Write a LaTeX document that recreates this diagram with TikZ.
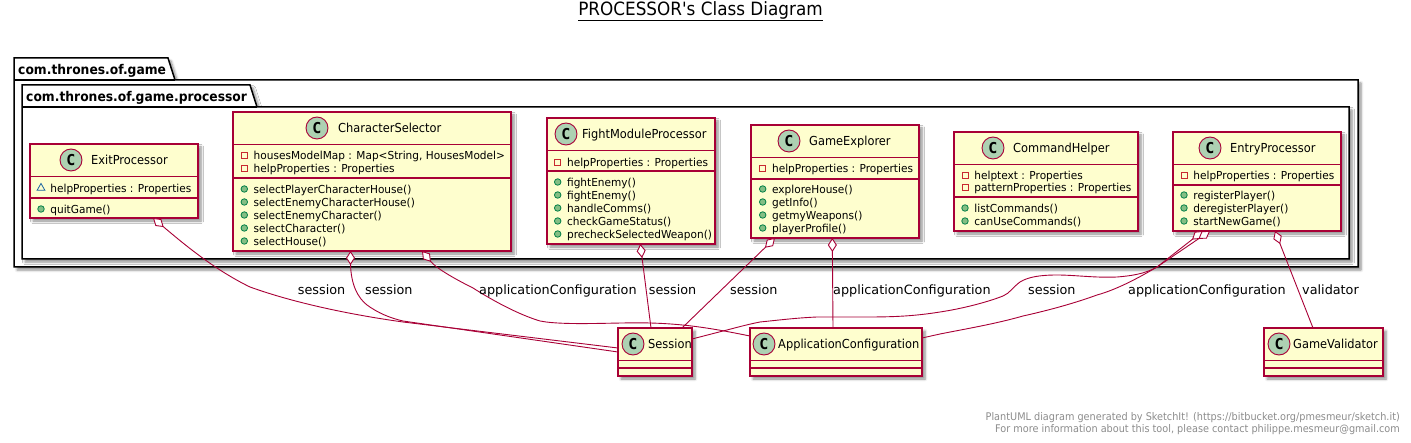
\documentclass[tikz,border=0pt]{standalone}
\usepackage{fontspec}
\usepackage{tikz}
\usetikzlibrary{arrows.meta,shadows.blur,shapes.geometric}
\setmainfont{DejaVu Sans}
\newfontfamily\umlfont[FakeStretch=0.92]{DejaVu Sans}
\newfontfamily\memfont[FakeStretch=0.96]{DejaVu Sans}
\newfontfamily\monofont{DejaVu Sans Mono}
\definecolor{umlline}{HTML}{A80036}
\definecolor{umlfill}{HTML}{FEFECE}
\definecolor{umlicon}{HTML}{ADD1B2}
\definecolor{pubfill}{HTML}{84BE84}
\definecolor{publine}{HTML}{038048}
\definecolor{privline}{HTML}{C82930}
\definecolor{pkgline}{HTML}{1963A0}
\tikzset{
  softshadow/.style={blur shadow={shadow xshift=3pt, shadow yshift=-3pt, shadow blur steps=6, shadow blur radius=2.5pt, shadow opacity=45}},
  pkgbody/.style={draw=black, line width=1.5pt, fill=white, softshadow},
  pkglabel/.style={anchor=west, inner sep=0pt, text height=12pt, text depth=1pt, font=\umlfont\bfseries\fontsize{13.4}{14}\selectfont},
  classbox/.style={draw=umlline, line width=1.25pt, fill=umlfill, anchor=north west, inner sep=0pt, outer sep=0pt, softshadow},
  classsep/.style={draw=umlline, line width=1.25pt},
  classicon/.style={circle, draw=umlline, line width=.9pt, fill=umlicon, minimum size=22pt, inner sep=0pt, font=\monofont\bfseries\fontsize{15}{15}\selectfont},
  classtitle/.style={anchor=west, inner sep=0pt, text height=11pt, text depth=1pt, font=\umlfont\fontsize{12.4}{13}\selectfont},
  memtext/.style={anchor=west, inner sep=0pt, text height=10pt, text depth=1pt, font=\memfont\fontsize{11}{12}\selectfont},
  pubmark/.style={circle, draw=publine, fill=pubfill, line width=.8pt, minimum size=6.5pt, inner sep=0pt},
  privmark/.style={rectangle, draw=privline, line width=.8pt, minimum size=6pt, inner sep=0pt},
  pkgmark/.style={regular polygon, regular polygon sides=3, draw=pkgline, line width=.8pt, minimum size=9pt, inner sep=0pt},
  aggr/.style={draw=umlline, line width=.9pt, {Diamond[fill=white, length=14pt, width=9pt, line width=.9pt]}-},
  linklabel/.style={anchor=west, inner sep=0pt, text height=11pt, text depth=1pt, font=\fontsize{12.8}{13}\selectfont},
}
% id, x1, y1, x2, y2, member rule, icon x, title x, title
\newcommand{\umlclass}[9]{
  \node[classbox, minimum width={(#4-#2)*1pt}, minimum height={(#5-#3)*1pt}] (#1) at (#2,#3) {};
  \draw[classsep] (#2,#3+32.5) -- (#4,#3+32.5);
  \draw[classsep] (#2,#6) -- (#4,#6);
  \node[classicon] (#1-icon) at (#7,#3+16) {C};
  \node[classtitle] (#1-title) at (#8,#3+16) {#9};
}
% mark style, id prefix, mark x, rows
\newcommand{\umlrows}[4]{
  \foreach \rowy/\rowtext [count=\rown] in {#4} {
    \node[#1] (#2-\rown-mark) at (#3,\rowy) {};
    \node[memtext] (#2-\rown) at (#3+9.2,\rowy) {\rowtext};
  }
}
\begin{document}
\begin{tikzpicture}[x=1pt, y=-1pt]
  \useasboundingbox (0,0) rectangle (1411,443);

  \node[inner sep=0pt, font=\umlfont\fontsize{18.3}{19}\selectfont] (title) at (700.5,11) {\underline{PROCESSOR's Class Diagram}};

  % packages
  \draw[pkgbody] (14,80) -- (14,58) -- (168,58) -- (175,80) -- (1358,80) -- (1358,267) -- (14,267) -- cycle;
  \draw[black, line width=1.5pt] (14,80) -- (175,80);
  \node[pkglabel] (gamepkg) at (18,69) {com.thrones.of.game};
  \draw[pkgbody] (22,107) -- (22,85) -- (250,85) -- (257,107) -- (1349,107) -- (1349,259) -- (22,259) -- cycle;
  \draw[black, line width=1.5pt] (22,107) -- (257,107);
  \node[pkglabel] (procpkg) at (26,96) {com.thrones.of.game.processor};

  % classes
  \umlclass{exit}{30}{144}{198}{218}{198}{71}{91}{ExitProcessor}
  \umlrows{pkgmark}{exit-a}{41}{188/helpProperties : Properties}
  \umlrows{pubmark}{exit-m}{41}{209/quitGame()}

  \umlclass{selector}{233}{112}{511}{251}{178}{317}{338}{CharacterSelector}
  \umlrows{privmark}{selector-a}{244.3}{155/{housesModelMap : Map<String, HousesModel>}, 168/helpProperties : Properties}
  \umlrows{pubmark}{selector-m}{244.3}{189/selectPlayerCharacterHouse(), 202/selectEnemyCharacterHouse(), 215/selectEnemyCharacter(), 228/selectCharacter(), 241/selectHouse()}

  \umlclass{fight}{547}{118}{715}{244}{171}{566}{582}{FightModuleProcessor}
  \umlrows{privmark}{fight-a}{557.7}{162/helpProperties : Properties}
  \umlrows{pubmark}{fight-m}{557.7}{182/fightEnemy(), 195/fightEnemy(), 208/handleComms(), 221/checkGameStatus(), 234/precheckSelectedWeapon()}

  \umlclass{explorer}{751}{125}{919}{238}{179}{789}{809}{GameExplorer}
  \umlrows{privmark}{explorer-a}{762.7}{168/helpProperties : Properties}
  \umlrows{pubmark}{explorer-m}{762.7}{189/exploreHouse(), 202/getInfo(), 215/getmyWeapons(), 228/playerProfile()}

  \umlclass{helper}{954}{132}{1138}{231}{197}{993}{1013}{CommandHelper}
  \umlrows{privmark}{helper-a}{965}{175/helptext : Properties, 187/patternProperties : Properties}
  \umlrows{pubmark}{helper-m}{965}{208/listCommands(), 221/canUseCommands()}

  \umlclass{entry}{1173}{132}{1341}{231}{185}{1210}{1230}{EntryProcessor}
  \umlrows{privmark}{entry-a}{1184}{175/helpProperties : Properties}
  \umlrows{pubmark}{entry-m}{1184}{195/registerPlayer(), 208/deregisterPlayer(), 221/startNewGame()}

  \umlclass{session}{618}{328}{692}{376}{368}{633}{648}{Session}
  \umlclass{appconfig}{750}{328}{922}{376}{368}{764}{778}{ApplicationConfiguration}
  \umlclass{validator}{1264}{328}{1383}{376}{368}{1279}{1293}{GameValidator}

  % links
  \draw[aggr] ([xshift=39pt]exit.south) .. controls (185,245) and (215,270) .. (250,287) .. controls (300,305) and (360,316) .. (403,322) -- ([yshift=4pt]session.west);
  \draw[aggr] ([xshift=-21.5pt]selector.south) -- (350.5,264) .. controls (351,285) and (358,298) .. (367,305) .. controls (378,313) and (390,318) .. (403,321) -- (session.west);
  \draw[aggr] ([xshift=50pt]selector.south) .. controls (436,268) and (453,278) .. (473,288) .. controls (495,302) and (520,315) .. (540,321) .. controls (565,326) and (620,322) .. (650,323) .. controls (690,324) and (720,330) .. ([yshift=16pt]appconfig.west);
  \draw[aggr] ([xshift=9.3pt]fight.south) -- ([xshift=-4pt]session.north);
  \draw[aggr] ([xshift=-60pt]explorer.south) -- ([xshift=27pt]session.north);
  \draw[aggr] ([xshift=-2.7pt]explorer.south) -- ([xshift=-3pt]appconfig.north);
  \draw[aggr] ([xshift=-54pt]entry.south) -- (1157,267) .. controls (1145,274) and (1130,276) .. (1117,277) .. controls (1095,278) and (1075,275) .. (1057,275) .. controls (1040,275) and (1028,277) .. (1020,282) .. controls (1012,288) and (1010,293) .. (1003,296) .. controls (985,303) and (960,309) .. (940,312) .. controls (915,316) and (895,317) .. (867,317) .. controls (850,317) and (835,317) .. (817,317) .. controls (795,318) and (780,320) .. (760,322) .. controls (745,325) and (735,328) .. (723,331) -- ([yshift=13pt]session.east);
  \draw[aggr] ([xshift=-47pt]entry.south) -- (1157,267) .. controls (1135,280) and (1115,290) .. (1097,295) .. controls (1075,303) and (1050,310) .. (1023,316) .. controls (995,324) and (965,329) .. (940,334) -- ([yshift=14pt]appconfig.east);
  \draw[aggr] ([xshift=18pt]entry.south) -- ([xshift=-10.5pt]validator.north);

  % link labels
  \node[linklabel] (exit-session) at (297.7,290) {session};
  \node[linklabel] (selector-session) at (365,290) {session};
  \node[linklabel] (selector-config) at (479,290) {applicationConfiguration};
  \node[linklabel] (fight-session) at (648.7,290) {session};
  \node[linklabel] (explorer-session) at (730,290) {session};
  \node[linklabel] (explorer-config) at (833,290) {applicationConfiguration};
  \node[linklabel] (entry-session) at (1028,290) {session};
  \node[linklabel] (entry-config) at (1128,290) {applicationConfiguration};
  \node[linklabel] (entry-validator) at (1302,290) {validator};

  \node[anchor=east, align=right, inner sep=0pt, text=gray!90, font=\umlfont\fontsize{10.55}{12}\selectfont] (footer) at (1400,424) {PlantUML diagram generated by SketchIt! (https://bitbucket.org/pmesmeur/sketch.it)\\For more information about this tool, please contact philippe.mesmeur@gmail.com};
\end{tikzpicture}
\end{document}
